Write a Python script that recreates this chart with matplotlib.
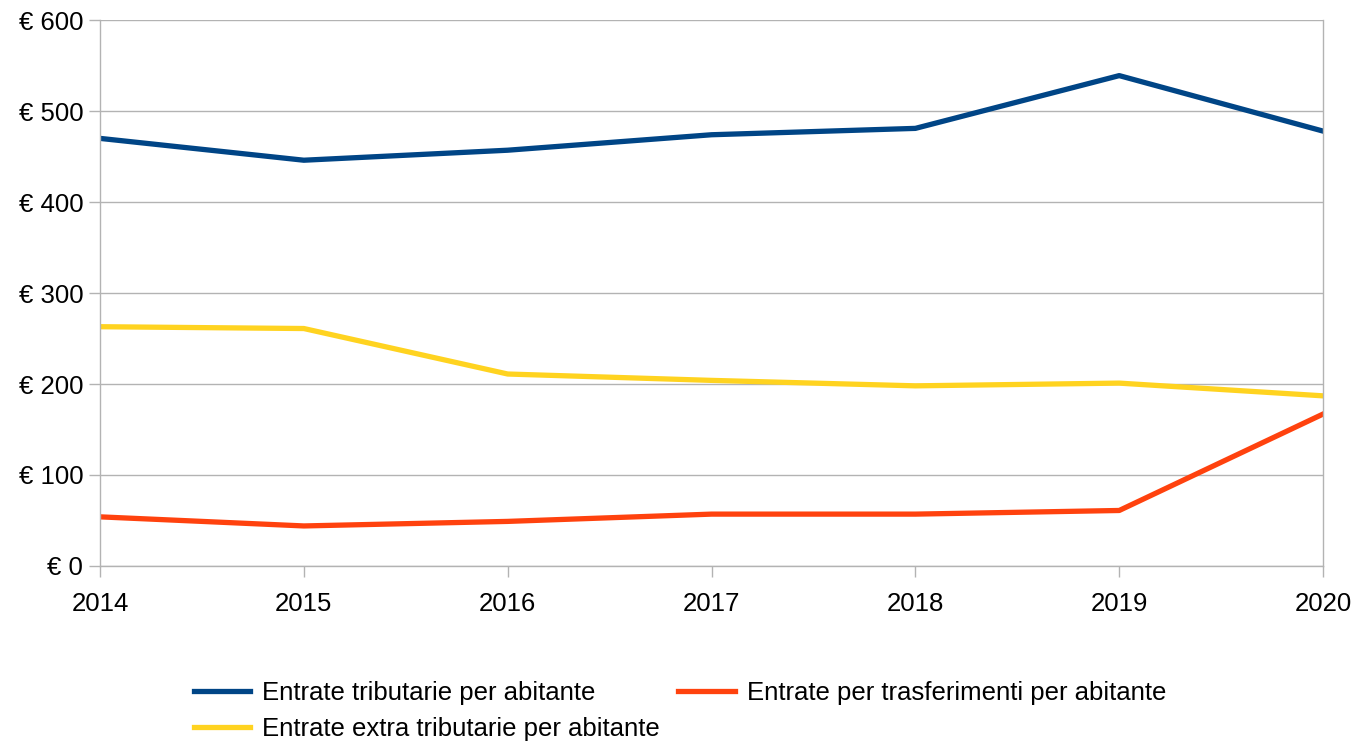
import matplotlib
matplotlib.use("Agg")
import matplotlib.pyplot as plt

plt.rcParams["font.family"] = ["Liberation Sans", "DejaVu Sans"]

years = [2014, 2015, 2016, 2017, 2018, 2019, 2020]
tributarie = [470, 446, 457, 474, 481, 539, 478]
trasferimenti = [54, 44, 49, 57, 57, 61, 167]
extra_tributarie = [263, 261, 211, 204, 198, 201, 187]

y_ticks = [0, 100, 200, 300, 400, 500, 600]
y_labels = [f"€ {v}" for v in y_ticks]

GRID = "#b3b3b3"
FS = 18.5

fig = plt.figure(figsize=(13.57, 7.45), dpi=100)
ax = fig.add_axes([0.0737, 0.2403, 0.9013, 0.7327])

l1, = ax.plot(years, tributarie, color="#004586", lw=3.8, label="Entrate tributarie per abitante")
l2, = ax.plot(years, trasferimenti, color="#ff420e", lw=3.8, label="Entrate per trasferimenti per abitante")
l3, = ax.plot(years, extra_tributarie, color="#ffd320", lw=3.8, label="Entrate extra tributarie per abitante")

ax.set_xlim(years[0], years[-1])
ax.set_ylim(0, 600)
ax.set_xticks(years)
ax.set_xticklabels([str(y) for y in years])
ax.set_yticks(y_ticks)
ax.set_yticklabels(y_labels)
ax.grid(axis="y", color=GRID, lw=1)
ax.set_axisbelow(True)
for s in ax.spines.values():
    s.set_color(GRID)
    s.set_linewidth(1)
ax.spines["top"].set_visible(False)
ax.tick_params(axis="both", colors=GRID, labelcolor="black", labelsize=FS, length=8, width=1)
ax.tick_params(axis="x", pad=11)
ax.tick_params(axis="y", pad=4)

fig.legend([l1, l3, l2], [l1.get_label(), l3.get_label(), l2.get_label()],
           ncol=2, loc="upper left", bbox_to_anchor=(0.1334, 0.1034),
           frameon=False, fontsize=FS, handlelength=2.2, handletextpad=0.47,
           columnspacing=0.7, labelspacing=0.46, borderpad=0)

fig.savefig("out.png", dpi=100)
